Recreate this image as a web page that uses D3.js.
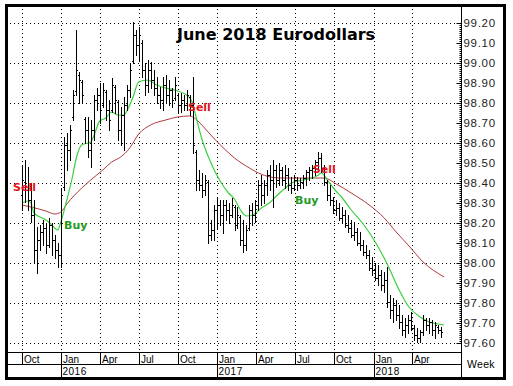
<!DOCTYPE html>
<html>
<head>
<meta charset="utf-8">
<script src="https://cdn.jsdelivr.net/npm/d3@7"></script>
<style>
  body { margin: 0; background: #fff; }
  svg { display: block; font-family: Arial, "Liberation Sans", sans-serif; }
</style>
</head>
<body>
<div id="chart"></div>
<script>
// weekly bars, first bar is the week of 2 Oct 2015
const firstWeek = new Date(2015, 9, 2);

const highs = [
  98.490, 98.515, 98.480, 98.400, 98.315, 98.180, 98.190, 98.215, 98.200, 98.225,
  98.200, 98.140, 98.100, 98.375, 98.630, 98.650, 98.690, 98.865, 99.165, 98.955,
  98.915, 98.730, 98.730, 98.715, 98.840, 98.875, 98.900, 98.900, 98.865, 98.815,
  98.925, 98.890, 98.815, 98.780, 98.830, 98.890, 99.000, 99.205, 99.165, 99.180,
  99.115, 99.000, 99.015, 99.005, 98.965, 98.930, 98.880, 98.930, 98.940, 98.915,
  98.875, 98.930, 98.850, 98.850, 98.840, 98.865, 98.840, 98.930, 98.565, 98.465,
  98.450, 98.440, 98.415, 98.215, 98.290, 98.325, 98.315, 98.315, 98.315, 98.300,
  98.325, 98.290, 98.280, 98.240, 98.215, 98.190, 98.290, 98.300, 98.315, 98.415,
  98.440, 98.415, 98.465, 98.490, 98.515, 98.490, 98.500, 98.480, 98.490, 98.475,
  98.430, 98.440, 98.430, 98.425, 98.440, 98.465, 98.480, 98.490, 98.515, 98.555,
  98.550, 98.490, 98.415, 98.390, 98.330, 98.315, 98.300, 98.280, 98.265, 98.240,
  98.215, 98.205, 98.175, 98.155, 98.115, 98.090, 98.065, 98.030, 98.000, 97.990,
  97.965, 97.955, 97.980, 97.840, 97.825, 97.815, 97.790, 97.740, 97.725, 97.740,
  97.755, 97.690, 97.675, 97.665, 97.740, 97.725, 97.725, 97.715, 97.705, 97.690,
  97.680
];

const lows = [
  98.265, 98.305, 98.265, 98.205, 98.000, 97.950, 98.065, 98.090, 98.050, 98.080,
  98.040, 98.025, 97.980, 97.980, 98.365, 98.465, 98.515, 98.715, 98.840, 98.800,
  98.800, 98.600, 98.530, 98.480, 98.615, 98.765, 98.700, 98.780, 98.715, 98.665,
  98.755, 98.750, 98.615, 98.590, 98.565, 98.765, 98.830, 99.000, 99.040, 99.015,
  98.930, 98.840, 98.855, 98.875, 98.840, 98.800, 98.775, 98.765, 98.800, 98.790,
  98.780, 98.815, 98.750, 98.755, 98.765, 98.765, 98.740, 98.550, 98.365, 98.365,
  98.330, 98.340, 98.100, 98.115, 98.115, 98.175, 98.190, 98.150, 98.215, 98.200,
  98.230, 98.165, 98.175, 98.090, 98.055, 98.065, 98.165, 98.190, 98.205, 98.265,
  98.290, 98.300, 98.340, 98.365, 98.280, 98.380, 98.390, 98.390, 98.375, 98.365,
  98.350, 98.365, 98.365, 98.375, 98.375, 98.390, 98.415, 98.425, 98.440, 98.465,
  98.455, 98.390, 98.315, 98.290, 98.250, 98.240, 98.215, 98.205, 98.180, 98.155,
  98.130, 98.115, 98.090, 98.065, 98.040, 98.025, 97.965, 97.940, 97.915, 97.890,
  97.865, 97.855, 97.780, 97.725, 97.705, 97.715, 97.675, 97.640, 97.630, 97.650,
  97.665, 97.615, 97.605, 97.605, 97.640, 97.665, 97.650, 97.640, 97.625, 97.650,
  97.630
];

const opens = [
  98.340, 98.405, 98.365, 98.315, 98.240, 98.065, 98.115, 98.155, 98.175, 98.090,
  98.190, 98.115, 98.065, 98.040, 98.380, 98.590, 98.565, 98.730, 98.860, 98.940,
  98.905, 98.720, 98.665, 98.565, 98.665, 98.815, 98.840, 98.790, 98.855, 98.765,
  98.765, 98.880, 98.805, 98.665, 98.740, 98.790, 98.865, 99.010, 99.140, 99.090,
  99.100, 98.965, 98.890, 98.965, 98.915, 98.875, 98.840, 98.815, 98.890, 98.840,
  98.865, 98.825, 98.840, 98.790, 98.815, 98.790, 98.830, 98.790, 98.555, 98.415,
  98.390, 98.365, 98.405, 98.140, 98.165, 98.265, 98.290, 98.240, 98.290, 98.265,
  98.240, 98.280, 98.190, 98.230, 98.115, 98.090, 98.175, 98.265, 98.240, 98.290,
  98.390, 98.340, 98.390, 98.440, 98.415, 98.465, 98.415, 98.465, 98.415, 98.440,
  98.390, 98.375, 98.415, 98.390, 98.405, 98.425, 98.455, 98.465, 98.475, 98.505,
  98.525, 98.475, 98.405, 98.340, 98.315, 98.265, 98.275, 98.225, 98.240, 98.190,
  98.175, 98.140, 98.155, 98.100, 98.090, 98.055, 98.040, 97.975, 97.965, 97.925,
  97.940, 97.890, 97.915, 97.805, 97.765, 97.790, 97.740, 97.705, 97.665, 97.690,
  97.715, 97.675, 97.640, 97.625, 97.655, 97.715, 97.690, 97.705, 97.665, 97.680,
  97.665
];

const closes = [
  98.415, 98.365, 98.315, 98.240, 98.065, 98.115, 98.155, 98.175, 98.090, 98.190,
  98.115, 98.065, 98.040, 98.340, 98.590, 98.565, 98.665, 98.840, 98.965, 98.915,
  98.840, 98.665, 98.565, 98.665, 98.815, 98.840, 98.765, 98.865, 98.765, 98.715,
  98.890, 98.815, 98.665, 98.740, 98.790, 98.865, 98.965, 99.140, 99.090, 99.140,
  98.965, 98.890, 98.965, 98.915, 98.875, 98.840, 98.815, 98.890, 98.840, 98.865,
  98.815, 98.890, 98.790, 98.815, 98.790, 98.840, 98.790, 98.590, 98.415, 98.390,
  98.365, 98.415, 98.140, 98.165, 98.265, 98.290, 98.240, 98.290, 98.265, 98.240,
  98.290, 98.190, 98.240, 98.115, 98.090, 98.165, 98.265, 98.240, 98.290, 98.390,
  98.340, 98.390, 98.440, 98.415, 98.465, 98.415, 98.465, 98.415, 98.440, 98.390,
  98.375, 98.415, 98.390, 98.405, 98.425, 98.455, 98.465, 98.475, 98.505, 98.525,
  98.475, 98.405, 98.340, 98.315, 98.265, 98.275, 98.225, 98.240, 98.190, 98.175,
  98.140, 98.155, 98.100, 98.090, 98.055, 98.040, 97.975, 97.965, 97.925, 97.940,
  97.890, 97.915, 97.805, 97.765, 97.790, 97.740, 97.705, 97.665, 97.690, 97.715,
  97.675, 97.640, 97.625, 97.655, 97.715, 97.690, 97.705, 97.665, 97.690, 97.665,
  97.655
];

// moving averages (week index, price)
const fastWeeks = [0, 2, 3, 4, 8, 10, 12, 13, 15, 17, 18, 20, 23, 24, 26, 28, 30, 32, 34, 36,
  37, 39, 42, 45, 48, 51, 55, 57, 58, 60, 63, 66, 69, 71, 73, 75, 77, 80, 83, 85,
  88, 90, 94, 97, 99, 100, 102, 104, 107, 110, 114, 118, 122, 126, 129, 133, 136, 139, 141];
const fastValues = [98.300, 98.310, 98.300, 98.250, 98.215, 98.190, 98.165, 98.205, 98.315, 98.440,
  98.515, 98.590, 98.605, 98.635, 98.710, 98.725, 98.755, 98.740, 98.740, 98.790,
  98.825, 98.905, 98.915, 98.890, 98.875, 98.865, 98.840, 98.800, 98.740, 98.625,
  98.505, 98.415, 98.350, 98.320, 98.265, 98.235, 98.240, 98.275, 98.305, 98.335,
  98.375, 98.400, 98.415, 98.425, 98.440, 98.450, 98.415, 98.375, 98.325, 98.265,
  98.195, 98.105, 97.995, 97.865, 97.785, 97.730, 97.705, 97.695, 97.690];

const slowWeeks = [0, 3, 8, 11, 13, 15, 20, 23, 27, 30, 33, 36, 39, 43, 48, 52, 56, 58, 61, 64,
  68, 71, 76, 79, 83, 86, 96, 101, 105, 110, 116, 121, 125, 129, 134, 141];
const slowValues = [98.290, 98.280, 98.260, 98.245, 98.255, 98.295, 98.375, 98.415, 98.465, 98.505,
  98.530, 98.575, 98.645, 98.690, 98.715, 98.730, 98.735, 98.720, 98.675, 98.625,
  98.565, 98.525, 98.475, 98.450, 98.430, 98.425, 98.425, 98.425, 98.395, 98.350,
  98.290, 98.225, 98.155, 98.090, 98.005, 97.930];

const priceTicks = [97.6, 97.7, 97.8, 97.9, 98.0, 98.1, 98.2, 98.3, 98.4, 98.5,
  98.6, 98.7, 98.8, 98.9, 99.0, 99.1, 99.2];

const quarterDates = [new Date(2015, 9, 1), new Date(2016, 0, 1), new Date(2016, 3, 1), new Date(2016, 6, 1),
  new Date(2016, 9, 1), new Date(2017, 0, 1), new Date(2017, 3, 1), new Date(2017, 6, 1),
  new Date(2017, 9, 1), new Date(2018, 0, 1), new Date(2018, 3, 1)];
const monthLabels = ['Oct', 'Jan', 'Apr', 'Jul', 'Oct', 'Jan', 'Apr', 'Jul', 'Oct', 'Jan', 'Apr'];
const yearLabels = ['2016', '2017', '2018'];

// trade signals: label, week index, price at text centre
const signalLabels = ['Sell', 'Buy', 'Sell', 'Buy', 'Sell'];
const signalWeeks = [0.8, 18, 59.3, 95.2, 101];
const signalPrices = [98.378, 98.19, 98.78, 98.315, 98.47];

const config = {
  width: 513,
  height: 386,
  plot: {left: 8, top: 7, right: 461, bottom: 352},
  monthRow: 364,
  frameBottom: 377,
  bar: '#000',
  fast: '#3ccf3c',
  slow: '#b0383c',
  sell: '#e3141c',
  buy: '#1f9a1f'
};

const svg = d3.select('#chart').append('svg')
  .attr('width', config.width)
  .attr('height', config.height);

svg.append('rect')
  .attr('width', config.width)
  .attr('height', config.height)
  .attr('fill', '#fff');

const p = config.plot;

const weekDate = i => d3.timeDay.offset(firstWeek, Math.round(i * 7));

const xScale = d3.scaleTime()
  .domain([quarterDates[0], quarterDates[quarterDates.length - 1]])
  .range([21.5, 412]);

const yScale = d3.scaleLinear()
  .domain([97.6, 99.2])
  .range([343, 23]);

const xw = i => xScale(weekDate(i));
const crisp = v => Math.round(v) + 0.5;

// ---- dotted grid ----
const grid = svg.append('g')
  .attr('stroke', '#000')
  .attr('stroke-width', 1)
  .attr('stroke-dasharray', '1,3');

grid.selectAll('.hgrid')
  .data(priceTicks.filter((d, i) => i % 2 === 0))
  .join('line')
    .attr('class', 'hgrid')
    .attr('x1', p.left + 2)
    .attr('x2', p.right)
    .attr('y1', d => crisp(yScale(d)))
    .attr('y2', d => crisp(yScale(d)));

grid.selectAll('.vgrid')
  .data(quarterDates)
  .join('line')
    .attr('class', 'vgrid')
    .attr('x1', d => crisp(xScale(d)))
    .attr('x2', d => crisp(xScale(d)))
    .attr('y1', p.top + 2)
    .attr('y2', p.bottom);

// ---- moving averages ----
const maLine = d3.line()
  .x(d => xw(d[0]))
  .y(d => yScale(d[1]))
  .curve(d3.curveMonotoneX);

svg.append('path')
  .datum(slowWeeks.map((w, i) => [w, slowValues[i]]))
  .attr('d', maLine)
  .attr('fill', 'none')
  .attr('stroke', config.slow)
  .attr('stroke-width', 1);

svg.append('path')
  .datum(fastWeeks.map((w, i) => [w, fastValues[i]]))
  .attr('d', maLine)
  .attr('fill', 'none')
  .attr('stroke', config.fast)
  .attr('stroke-width', 1.2);

// ---- OHLC bars ----
const bars = highs.map((h, i) => ({i, high: h, low: lows[i], open: opens[i], close: closes[i]}));

const barGroup = svg.append('g')
  .attr('stroke', config.bar)
  .attr('stroke-width', 1);

const barG = barGroup.selectAll('.bar')
  .data(bars)
  .join('g')
    .attr('class', 'bar')
    .attr('transform', d => `translate(${crisp(xw(d.i))},0)`);

barG.append('line')
  .attr('y1', d => Math.round(yScale(d.high)))
  .attr('y2', d => Math.round(yScale(d.low)) + 1);

barG.append('line')
  .attr('x1', -1.5).attr('x2', 0)
  .attr('y1', d => crisp(yScale(d.open)))
  .attr('y2', d => crisp(yScale(d.open)));

barG.append('line')
  .attr('x1', 0).attr('x2', 1.5)
  .attr('y1', d => crisp(yScale(d.close)))
  .attr('y2', d => crisp(yScale(d.close)));

// ---- signals ----
svg.append('g')
  .selectAll('text')
  .data(signalLabels)
  .join('text')
    .attr('x', (d, i) => xw(signalWeeks[i]))
    .attr('y', (d, i) => yScale(signalPrices[i]))
    .attr('dy', '0.36em')
    .attr('text-anchor', 'middle')
    .attr('font-family', '"DejaVu Sans", sans-serif')
    .attr('font-weight', 'bold')
    .attr('font-size', 11)
    .attr('fill', d => d === 'Sell' ? config.sell : config.buy)
    .text(d => d);

// ---- title ----
svg.append('text')
  .attr('x', 177)
  .attr('y', 39.5)
  .attr('font-family', '"DejaVu Sans", sans-serif')
  .attr('font-weight', 'bold')
  .attr('font-size', 16)
  .attr('fill', '#000')
  .text('June 2018 Eurodollars');

// ---- right price axis ----
const axisX = p.right + 0.5;

const minorTicks = d3.range(0, 161).map(k => 97.6 + k * 0.01);

svg.append('g')
  .attr('transform', `translate(${axisX},0)`)
  .call(d3.axisLeft(yScale).tickValues(minorTicks).tickSize(2).tickFormat(''))
  .call(g => g.select('.domain').remove())
  .call(g => g.selectAll('.tick line').attr('stroke', '#000'));

svg.append('g')
  .attr('transform', `translate(${axisX},0)`)
  .call(d3.axisLeft(yScale).tickValues(priceTicks).tickSize(5).tickFormat(''))
  .call(g => g.select('.domain').remove());

svg.append('g')
  .attr('transform', `translate(${axisX},0)`)
  .call(d3.axisRight(yScale).tickValues(priceTicks).tickSize(0).tickPadding(2).tickFormat(d3.format('.2f')))
  .call(g => g.select('.domain').remove())
  .call(g => g.selectAll('text')
    .attr('font-family', 'Arial, "Liberation Sans", sans-serif')
    .attr('font-size', 11.5)
    .attr('letter-spacing', 0.7)
    .attr('fill', '#222'));

// ---- time axis band ----
const lines = svg.append('g').attr('stroke', '#000').attr('stroke-width', 1);

lines.append('line')
  .attr('x1', p.left).attr('x2', p.right + 1)
  .attr('y1', p.bottom + 0.5).attr('y2', p.bottom + 0.5);

lines.append('line')
  .attr('x1', p.left).attr('x2', p.right + 1)
  .attr('y1', config.monthRow + 0.5).attr('y2', config.monthRow + 0.5);

lines.append('line')
  .attr('x1', axisX).attr('x2', axisX)
  .attr('y1', p.top).attr('y2', config.frameBottom);

lines.selectAll('.mtick')
  .data(quarterDates)
  .join('line')
    .attr('class', 'mtick')
    .attr('x1', d => crisp(xScale(d)))
    .attr('x2', d => crisp(xScale(d)))
    .attr('y1', p.bottom)
    .attr('y2', config.monthRow);

const janDates = quarterDates.filter(d => d.getMonth() === 0);

lines.selectAll('.ytick')
  .data(janDates)
  .join('line')
    .attr('class', 'ytick')
    .attr('x1', d => crisp(xScale(d)))
    .attr('x2', d => crisp(xScale(d)))
    .attr('y1', config.monthRow)
    .attr('y2', config.frameBottom);

const axisText = svg.append('g')
  .attr('font-family', 'Arial, "Liberation Sans", sans-serif')
  .attr('font-size', 10)
  .attr('fill', '#000');

axisText.selectAll('.mlabel')
  .data(quarterDates)
  .join('text')
    .attr('class', 'mlabel')
    .attr('x', d => crisp(xScale(d)) + 1.5)
    .attr('y', 362.5)
    .text((d, i) => monthLabels[i]);

axisText.selectAll('.ylabel')
  .data(janDates)
  .join('text')
    .attr('class', 'ylabel')
    .attr('x', d => crisp(xScale(d)) + 1)
    .attr('y', 375)
    .attr('letter-spacing', 0.5)
    .text((d, i) => yearLabels[i]);

axisText.append('text')
  .attr('x', 467)
  .attr('y', 368)
  .attr('font-size', 10.5)
  .attr('letter-spacing', 0.3)
  .text('Week');

// ---- outer frame ----
svg.append('rect')
  .attr('x', 6.5)
  .attr('y', 5.5)
  .attr('width', 498)
  .attr('height', 373)
  .attr('fill', 'none')
  .attr('stroke', '#000')
  .attr('stroke-width', 3);
</script>
</body>
</html>
